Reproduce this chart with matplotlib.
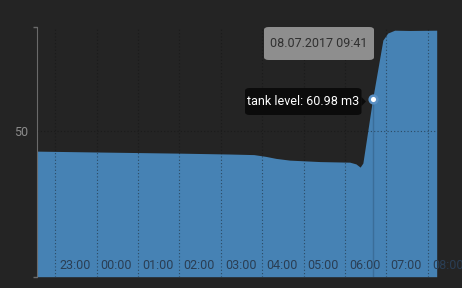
import matplotlib.pyplot as plt
import matplotlib.dates as mdates
from matplotlib.patches import FancyBboxPatch
import pandas as pd

plt.rcParams['font.family'] = ['Roboto', 'DejaVu Sans']

# datos (nivel del tanque, m3)
times = ["2017-07-07 22:33", "2017-07-08 00:00", "2017-07-08 02:01", "2017-07-08 03:13",
         "2017-07-08 03:48", "2017-07-08 04:05", "2017-07-08 04:20", "2017-07-08 04:40",
         "2017-07-08 05:24", "2017-07-08 06:07", "2017-07-08 06:16", "2017-07-08 06:22",
         "2017-07-08 06:26", "2017-07-08 06:40", "2017-07-08 06:55", "2017-07-08 07:02",
         "2017-07-08 07:12", "2017-07-08 07:34", "2017-07-08 08:13"]
levels = [43.2, 42.9, 42.5, 42.2, 42.0, 41.4, 40.7, 40.1, 39.6, 39.4, 38.8, 37.7,
          39.1, 60.98, 81.4, 83.8, 84.8, 84.7, 84.8]
hour_ticks = ["2017-07-07 23:00", "2017-07-08 00:00", "2017-07-08 01:00", "2017-07-08 02:00",
              "2017-07-08 03:00", "2017-07-08 04:00", "2017-07-08 05:00", "2017-07-08 06:00",
              "2017-07-08 07:00", "2017-07-08 08:00"]
hover_time = "2017-07-08 06:40"
hover_value = 60.98
tooltip_date = "08.07.2017 09:41"
series_name = "tank level"

t = pd.to_datetime(times)
ticks = pd.to_datetime(hour_ticks)
ht = pd.to_datetime(hover_time)

bg = '#242424'
fill = '#4682b4'

fig = plt.figure(figsize=(4.62, 2.88), dpi=100, facecolor=bg)
ax = fig.add_axes([36.5 / 462, 1 - 276.7 / 288, 400.2 / 462, 250 / 288])
ax.set_facecolor(bg)

ax.fill_between(t, 0, levels, color=fill, linewidth=0, zorder=1)
ax.set_xlim(t[0], t[-1])
ax.set_ylim(0, 86)

# rejilla punteada
for tk in ticks:
    ax.axvline(tk, color='#111111', alpha=0.5, linestyle=(0, (1, 2)), linewidth=0.8, zorder=2)
ax.axhline(50, color='#111111', alpha=0.5, linestyle=(0, (1, 2)), linewidth=0.8, zorder=2)

# linea del cursor
ax.vlines(ht, 0, hover_value, color='#3a6d99', linewidth=1, zorder=3)

# etiquetas de hora dentro del area
for tk in ticks:
    ax.annotate(tk.strftime('%H:%M'), (mdates.date2num(tk), 0), xytext=(3, 8),
                textcoords='offset points', fontsize=9, color='#2a3e54',
                ha='left', va='center', zorder=4)

ax.set_xticks([])
ax.set_yticks([50])
ax.set_yticklabels(['50'], color='#8c8c8c', fontsize=9)
ax.tick_params(axis='y', length=0, pad=6)
ax.set_yticks([0, 86], minor=True)
ax.tick_params(axis='y', which='minor', length=3, color='#6a6a6a', width=1)

for s in ['top', 'right', 'bottom']:
    ax.spines[s].set_visible(False)
ax.spines['left'].set_color('#6a6a6a')

# punto del cursor
ax.plot([ht], [hover_value], 'o', ms=5.5, mfc='white', mec='#5a90c4', mew=1.8, zorder=6, clip_on=False)

# tooltips
box1 = FancyBboxPatch((264 / 462, 1 - 60 / 288), 110 / 462, 33 / 288,
                      boxstyle='round,pad=0,rounding_size=0.01', transform=fig.transFigure,
                      facecolor='#8e8e8e', edgecolor='none', zorder=7)
fig.patches.append(box1)
fig.text(319 / 462, 1 - 43.5 / 288, tooltip_date, color='#303030', fontsize=9,
         ha='center', va='center', zorder=8)

box2 = FancyBboxPatch((245 / 462, 1 - 115 / 288), 116.5 / 462, 27 / 288,
                      boxstyle='round,pad=0,rounding_size=0.01', transform=fig.transFigure,
                      facecolor='#0b0b0b', edgecolor='none', zorder=7)
fig.patches.append(box2)
arrow = plt.Polygon([(361.5 / 462, 1 - 97 / 288), (366 / 462, 1 - 101.5 / 288),
                     (361.5 / 462, 1 - 106 / 288)], closed=True, transform=fig.transFigure,
                    facecolor='#0b0b0b', edgecolor='none', zorder=7)
fig.patches.append(arrow)
fig.text(303 / 462, 1 - 101.5 / 288, f'{series_name}: {hover_value:.2f} m3', color='white',
         fontsize=9, ha='center', va='center', zorder=8)

plt.savefig('out.png', dpi=100, facecolor=bg)
